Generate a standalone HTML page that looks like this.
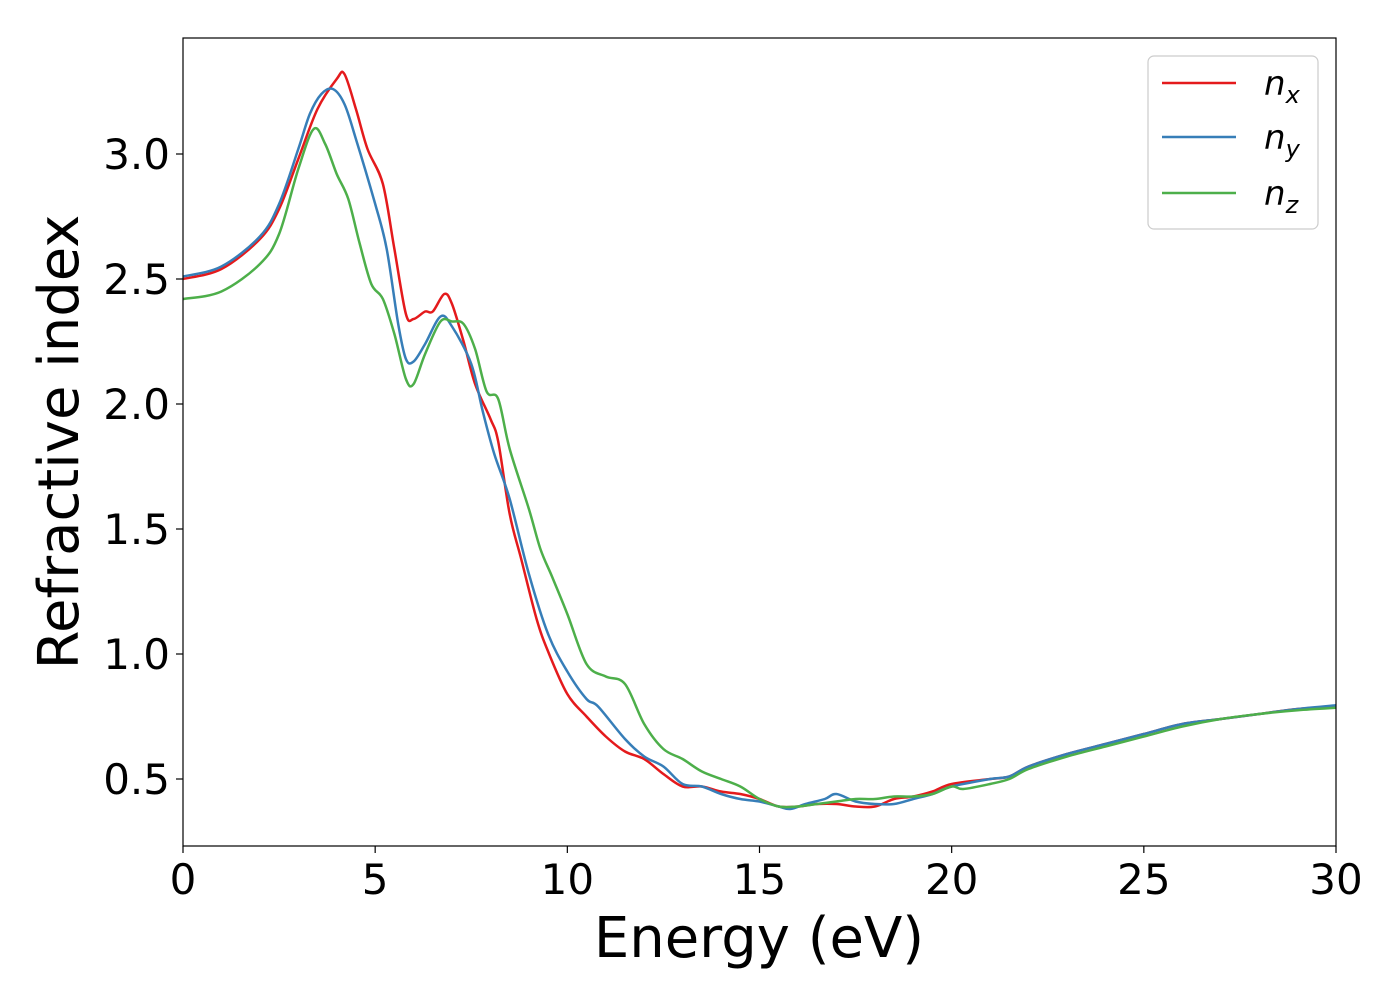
<!DOCTYPE html>
<html><head><meta charset="utf-8"><style>
html,body{margin:0;padding:0;background:#fff;}
svg{display:block;font-family:"DejaVu Sans","Liberation Sans",sans-serif;}
</style></head><body>
<svg id="chart" width="1400" height="1000" viewBox="0 0 1400 1000">
<g id="series"></g>
<rect x="183" y="38" width="1153" height="808" fill="none" stroke="#000" stroke-width="1.2"/>
<g id="xticks"></g>
<g id="yticks"></g>
<text x="759" y="957" font-size="56" text-anchor="middle">Energy (eV)</text>
<text transform="translate(78,442) rotate(-90)" font-size="56" text-anchor="middle">Refractive index</text>
<g>
<rect x="1148" y="56" width="170" height="173" rx="6" fill="#fff" fill-opacity="0.8" stroke="#ccc" stroke-width="1.2"/>
<g><line x1="1162" y1="83" x2="1236" y2="83" stroke="#e41a1c" stroke-width="2.5"/><text x="1264" y="95" font-size="34" font-style="italic">n<tspan font-size="24" dy="8">x</tspan></text></g>
<g><line x1="1162" y1="137" x2="1236" y2="137" stroke="#377eb8" stroke-width="2.5"/><text x="1264" y="149" font-size="34" font-style="italic">n<tspan font-size="24" dy="8">y</tspan></text></g>
<g><line x1="1162" y1="193" x2="1236" y2="193" stroke="#4daf4a" stroke-width="2.5"/><text x="1264" y="205" font-size="34" font-style="italic">n<tspan font-size="24" dy="8">z</tspan></text></g>
</g>
</svg>
<script>
const xTicks=[0,5,10,15,20,25,30];
const yTicks=[0.5,1.0,1.5,2.0,2.5,3.0];
const nxE=[0,1,2,2.5,3,3.5,4,4.2,4.5,4.8,5.2,5.5,5.8,6.0,6.3,6.5,6.8,7.0,7.3,7.6,8.0,8.2,8.5,8.8,9.2,9.5,10,10.5,11,11.5,12,12.5,13,13.5,14,14.5,15,15.5,16,16.5,17,17.5,18,18.5,19,19.5,20,21,21.5,22,23,24,25,26,27,28,29,30];
const nxV=[2.50,2.54,2.66,2.78,2.98,3.18,3.30,3.32,3.18,3.02,2.88,2.62,2.36,2.34,2.37,2.37,2.44,2.40,2.25,2.08,1.94,1.85,1.56,1.38,1.14,1.01,0.84,0.75,0.67,0.61,0.58,0.52,0.47,0.47,0.45,0.44,0.42,0.39,0.39,0.40,0.40,0.39,0.39,0.42,0.43,0.45,0.48,0.50,0.51,0.55,0.60,0.64,0.68,0.72,0.74,0.76,0.78,0.79];
const nyE=[0,1,2,2.5,3,3.3,3.6,3.9,4.2,4.5,5,5.3,5.6,5.8,6.0,6.3,6.7,7.0,7.5,7.8,8.1,8.5,9,9.5,10,10.5,10.8,11.5,12,12.5,13,13.5,14,14.5,15,15.5,15.8,16.2,16.7,17,17.5,18,18.5,19,19.5,20,21,21.5,22,23,24,25,26,27,28,29,30];
const nyV=[2.51,2.55,2.67,2.80,3.02,3.16,3.24,3.26,3.20,3.06,2.80,2.62,2.32,2.18,2.17,2.24,2.35,2.31,2.16,1.97,1.80,1.62,1.32,1.08,0.93,0.82,0.79,0.66,0.59,0.55,0.48,0.47,0.44,0.42,0.41,0.39,0.38,0.40,0.42,0.44,0.41,0.40,0.40,0.42,0.44,0.47,0.50,0.51,0.55,0.60,0.64,0.68,0.72,0.74,0.76,0.78,0.795];
const nzE=[0,1,2,2.5,3,3.4,3.7,4.0,4.3,4.6,4.9,5.2,5.5,5.8,6.0,6.3,6.7,7.0,7.3,7.6,7.9,8.2,8.5,9,9.3,9.6,10,10.5,11,11.5,12,12.5,13,13.5,14,14.5,15,15.5,16,16.5,17,17.5,18,18.5,19,19.5,20,20.3,21,21.5,22,23,24,25,26,27,28,29,30];
const nzV=[2.42,2.45,2.56,2.68,2.94,3.10,3.04,2.92,2.82,2.64,2.48,2.42,2.28,2.10,2.08,2.20,2.33,2.33,2.32,2.22,2.05,2.02,1.82,1.58,1.42,1.31,1.16,0.96,0.91,0.88,0.72,0.62,0.58,0.53,0.50,0.47,0.42,0.39,0.39,0.40,0.41,0.42,0.42,0.43,0.43,0.44,0.47,0.46,0.48,0.50,0.54,0.59,0.63,0.67,0.71,0.74,0.76,0.775,0.785];
const NS='http://www.w3.org/2000/svg';
const X0=183,X1=1336,Y3=154,YPX=250;
function xs(v){return X0+(v-0)/30*(X1-X0);}
function ys(v){return Y3+(3.0-v)*YPX;}
function path(E,V){
  const p=E.map((e,i)=>[xs(e),ys(V[i])]);
  let d='M'+p[0][0].toFixed(1)+','+p[0][1].toFixed(1);
  for(let i=0;i<p.length-1;i++){
    const a=p[Math.max(i-1,0)],b=p[i],c=p[i+1],q=p[Math.min(i+2,p.length-1)];
    const c1=[b[0]+(c[0]-a[0])/6,b[1]+(c[1]-a[1])/6];
    const c2=[c[0]-(q[0]-b[0])/6,c[1]-(q[1]-b[1])/6];
    d+=' C'+c1[0].toFixed(1)+','+c1[1].toFixed(1)+' '+c2[0].toFixed(1)+','+c2[1].toFixed(1)+' '+c[0].toFixed(1)+','+c[1].toFixed(1);
  }
  return d;
}
const sg=document.getElementById('series');
[[nxE,nxV,'#e41a1c','line-nx'],[nyE,nyV,'#377eb8','line-ny'],[nzE,nzV,'#4daf4a','line-nz']].forEach(s=>{
  const el=document.createElementNS(NS,'path');
  el.setAttribute('d',path(s[0],s[1]));
  el.setAttribute('fill','none');el.setAttribute('stroke',s[2]);el.setAttribute('stroke-width','2.5');
  
  
  sg.appendChild(el);
});
const xg=document.getElementById('xticks');
xTicks.forEach(t=>{
  const l=document.createElementNS(NS,'line');
  l.setAttribute('x1',xs(t));l.setAttribute('x2',xs(t));l.setAttribute('y1',846);l.setAttribute('y2',853);l.setAttribute('stroke','#000');l.setAttribute('stroke-width','1.2');
  
  
  xg.appendChild(l);
  const tx=document.createElementNS(NS,'text');
  tx.setAttribute('x',xs(t));tx.setAttribute('y',894);tx.setAttribute('font-size','42');tx.setAttribute('text-anchor','middle');
  tx.textContent=t;
  
  
  xg.appendChild(tx);
});
const yg=document.getElementById('yticks');
yTicks.forEach(t=>{
  const l=document.createElementNS(NS,'line');
  l.setAttribute('x1',176);l.setAttribute('x2',183);l.setAttribute('y1',ys(t));l.setAttribute('y2',ys(t));l.setAttribute('stroke','#000');l.setAttribute('stroke-width','1.2');
  
  
  yg.appendChild(l);
  const tx=document.createElementNS(NS,'text');
  tx.setAttribute('x',170);tx.setAttribute('y',ys(t)+15);tx.setAttribute('font-size','42');tx.setAttribute('text-anchor','end');
  tx.textContent=t.toFixed(1);
  
  
  yg.appendChild(tx);
});
</script>
</body></html>
